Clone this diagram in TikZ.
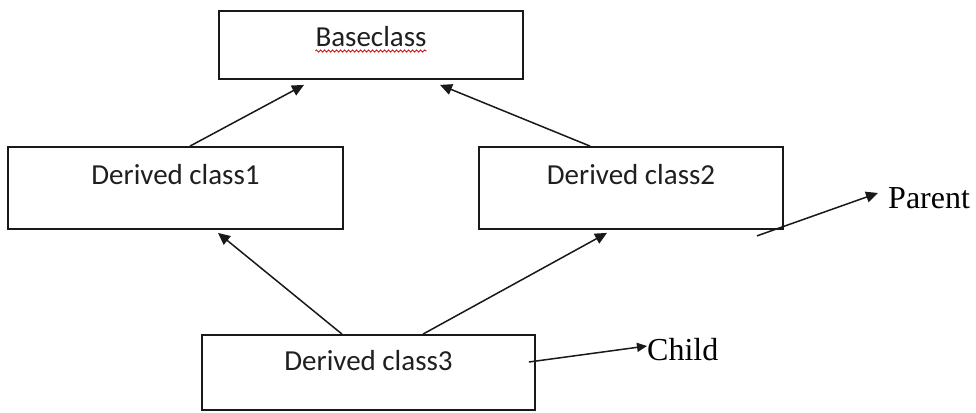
\documentclass[tikz,border=0pt]{standalone}
\usepackage{fontspec}
\setmainfont{Liberation Serif}
\newfontfamily\calfont{Carlito}
\usetikzlibrary{arrows.meta,decorations.pathmorphing,calc}
\tikzset{
  classbox/.style={draw=black!90, line width=1.8pt, rectangle, inner sep=0pt},
  classtext/.style={inner sep=0pt, anchor=base, text=black!88, font=\calfont\fontsize{29}{34}\selectfont},
  serifl/.style={inner sep=0pt, anchor=base west, text=black, font=\fontsize{32}{38}\selectfont},
  arr/.style={draw=black!90, line width=1.5pt, -{Triangle[length=12pt,width=11pt]}},
  sarr/.style={draw=black!90, line width=1.5pt, -{Triangle[length=10pt,width=9pt]}}
}
\begin{document}
\begin{tikzpicture}[x=1pt,y=-1pt]
\useasboundingbox[fill=white] (0,0) rectangle (976,412);
% boxes
\node[classbox, minimum width=304pt, minimum height=68pt] (base) at (371,45) {};
\node[classbox, minimum width=335pt, minimum height=82pt] (d1) at (175.5,188) {};
\node[classbox, minimum width=304pt, minimum height=82pt] (d2) at (631,188) {};
\node[classbox, minimum width=333pt, minimum height=75pt] (d3) at (368.5,372.5) {};
% texts
\node[classtext] (btext) at (371,47) {Baseclass};
\node[classtext] (d1text) at (175.5,184) {Derived class1};
\node[classtext] (d2text) at (631,184) {Derived class2};
\node[classtext] (d3text) at (368.5,370) {Derived class3};
\node[serifl] (parent) at (888,208) {Parent};
\node[serifl] (child) at (647,360) {Child};
% spell-check squiggle
\draw[red!80!black, line width=0.8pt, decorate, decoration={snake, amplitude=1.1pt, segment length=4pt}]
  ([yshift=-4pt]btext.base west) -- ([yshift=-4pt]btext.base east);
% inheritance arrows
\draw[arr] ([xshift=14.5pt]d1.north) -- ([xshift=-67pt,yshift=-5pt]base.south);
\draw[arr] ([xshift=-41pt]d2.north) -- ([xshift=69pt,yshift=-5pt]base.south);
\draw[arr] ([xshift=-26.5pt]d3.north) -- ([xshift=42.5pt,yshift=-3pt]d1.south);
\draw[arr] ([xshift=54.5pt]d3.north) -- ([xshift=-24pt,yshift=-3pt]d2.south);
% label arrows
\draw[arr] ([xshift=-27pt,yshift=-6pt]d2.south east) -- ([xshift=-10pt,yshift=15pt]parent.base west);
\draw[sarr] ([xshift=-7pt,yshift=10.5pt]d3.east) -- ([yshift=14pt]child.base west);
\end{tikzpicture}
\end{document}
